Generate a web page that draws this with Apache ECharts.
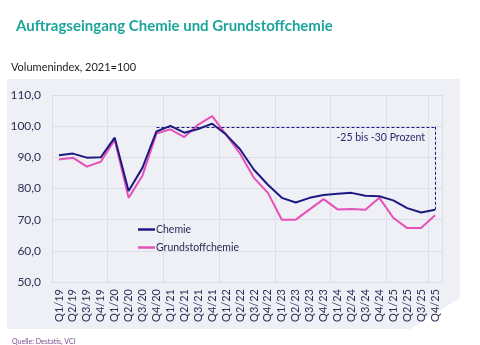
<!DOCTYPE html>
<html><head><meta charset="utf-8">
<script src="https://cdn.jsdelivr.net/npm/echarts@6/dist/echarts.min.js"></script>
<style>html,body{margin:0;padding:0;background:#fff}#c{width:480px;height:345px}</style>
</head><body><div id="c"></div>
<script>
const categories = ['Q1/19','Q2/19','Q3/19','Q4/19','Q1/20','Q2/20','Q3/20','Q4/20','Q1/21','Q2/21','Q3/21','Q4/21','Q1/22','Q2/22','Q3/22','Q4/22','Q1/23','Q2/23','Q3/23','Q4/23','Q1/24','Q2/24','Q3/24','Q4/24','Q1/25','Q2/25','Q3/25','Q4/25'];
const chemie = [90.7, 91.2, 89.9, 90.0, 96.3, 79.2, 86.7, 98.3, 100.1, 97.9, 99.1, 100.8, 97.3, 92.6, 86.0, 81.2, 77.0, 75.5, 77.0, 77.9, 78.3, 78.6, 77.7, 77.5, 76.2, 73.7, 72.3, 73.2];
const grundstoff = [89.3, 89.9, 87.0, 88.6, 95.6, 77.0, 84.2, 97.6, 99.0, 96.5, 100.5, 103.2, 97.3, 91.2, 83.4, 78.6, 70.0, 70.0, 73.3, 76.6, 73.3, 73.4, 73.2, 77.0, 70.6, 67.3, 67.3, 71.4];
const refLevel = 99.8;
const yMin = 50, yMax = 110, yStep = 10;

const NAVY = '#1c1a80', PINK = '#e650b8', FONT = 'Lato';
const chart = echarts.init(document.getElementById('c'));
chart.setOption({
  backgroundColor: '#ffffff',
  animation: false,
  textStyle: { fontFamily: FONT },
  graphic: [{
    type: 'polygon', z: -10, silent: true,
    shape: { points: [[7,79],[460,79],[460,298],[410,329],[7,329]] },
    style: { fill: '#eef0f6' }
  }],
  title: [
    { text: 'Auftragseingang Chemie und Grundstoffchemie', left: 11, top: 14,
      textStyle: { fontFamily: FONT, fontSize: 15, fontWeight: 'bold', color: '#1ea59b' } },
    { text: 'Volumenindex, 2021=100', left: 6, top: 57,
      textStyle: { fontFamily: FONT, fontSize: 11, fontWeight: 'normal', color: '#222222' } },
    { text: 'Quelle: Destatis, VCI', left: 7, top: 333,
      textStyle: { fontFamily: FONT, fontSize: 7, fontWeight: 'normal', color: '#7b4b8e' } }
  ],
  legend: {
    orient: 'vertical', left: 133, top: 219, itemGap: 7,
    icon: 'rect', itemWidth: 17, itemHeight: 2.5,
    textStyle: { fontFamily: FONT, fontSize: 10.5, color: '#2a2a55', padding: [0,0,0,-4] },
    data: ['Chemie', 'Grundstoffchemie']
  },
  grid: { left: 52, right: 38, top: 95, bottom: 63 },
  xAxis: {
    type: 'category', data: categories, boundaryGap: true,
    axisLine: { show: false }, axisTick: { show: false },
    axisLabel: { rotate: 90, interval: 0, margin: 7, fontSize: 11, color: '#2f2f55', fontFamily: FONT },
    splitLine: { show: true, interval: 3, lineStyle: { color: '#dcdfe8', width: 1 } }
  },
  yAxis: {
    type: 'value', min: yMin, max: yMax, interval: yStep,
    axisLine: { show: false }, axisTick: { show: false },
    axisLabel: { margin: 11, fontSize: 12, color: '#2f2f55', fontFamily: FONT,
      formatter: v => v.toFixed(1).replace('.', ',') },
    splitLine: { lineStyle: { color: '#dcdfe8', width: 1 } }
  },
  series: [
    { name: 'Chemie', type: 'line', data: chemie, symbol: 'none', z: 3,
      lineStyle: { color: NAVY, width: 2 }, itemStyle: { color: NAVY },
      markLine: {
        silent: true, symbol: 'none',
        lineStyle: { color: NAVY, width: 1, type: [3, 2] },
        data: [
          [{ coord: ['Q4/20', refLevel], label: { show: true, position: 'insideEndBottom', formatter: '-25 bis -30 Prozent',
              color: '#2a2a70', fontSize: 10.5, fontFamily: FONT, distance: [10, 5] } },
           { coord: ['Q4/25', refLevel] }],
          [{ coord: ['Q4/25', refLevel], label: { show: false } }, { coord: ['Q4/25', chemie[chemie.length-1]] }]
        ]
      } },
    { name: 'Grundstoffchemie', type: 'line', data: grundstoff, symbol: 'none', z: 2,
      lineStyle: { color: PINK, width: 2 }, itemStyle: { color: PINK } }
  ]
});
</script></body></html>
